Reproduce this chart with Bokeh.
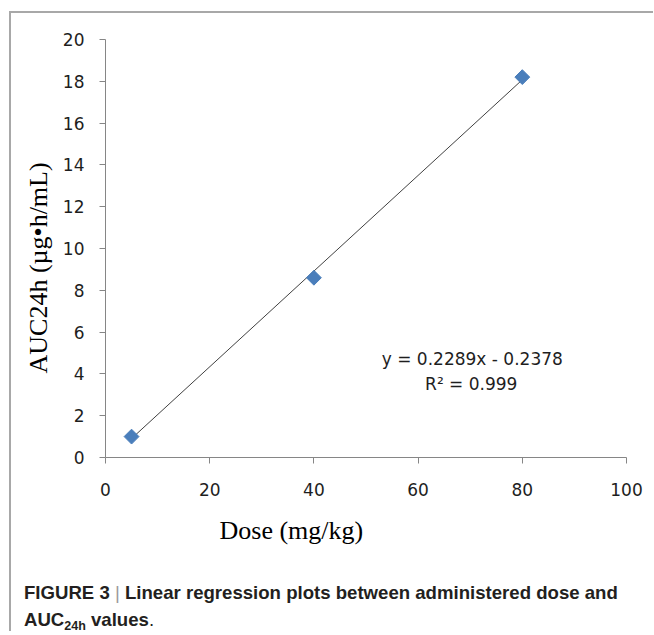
import numpy as np
from bokeh.plotting import figure
from bokeh.models import Label, Div, Range1d, FixedTicker, Title
from bokeh.layouts import column
from bokeh.embed import file_html
from bokeh.resources import INLINE

# ---- data ----
dose = [5, 40, 80]            # mg/kg
auc24h = [1.0, 8.6, 18.2]     # µg·h/mL
slope = 0.2289
intercept = -0.2378
r_squared = 0.999
x_ticks = [0, 20, 40, 60, 80, 100]
y_ticks = [0, 2, 4, 6, 8, 10, 12, 14, 16, 18, 20]

p = figure(width=642, height=550,
           x_range=Range1d(0, 100), y_range=Range1d(0, 20),
           output_backend="svg", toolbar_location=None,
           min_border_left=94, min_border_right=27,
           min_border_top=26, min_border_bottom=106,
           margin=0)
p.grid.visible = False
p.outline_line_color = None
p.background_fill_color = "white"
p.border_fill_color = "white"

for ax, ticks, standoff in ((p.xaxis, x_ticks, 19), (p.yaxis, y_ticks, 15)):
    ax.ticker = FixedTicker(ticks=ticks)
    ax.minor_tick_line_color = None
    ax.major_tick_in = 0
    ax.major_tick_out = 6
    ax.axis_line_color = "#868686"
    ax.major_tick_line_color = "#868686"
    ax.axis_line_width = 1
    ax.major_label_text_font = "DejaVu Sans"
    ax.major_label_text_font_size = "17px"
    ax.major_label_text_color = "#1e1e1e"
    ax.major_label_standoff = standoff

# trend line from the regression equation over the dose span
fit_x = np.array([min(dose), max(dose)], dtype=float)
fit_y = slope * fit_x + intercept
p.line(fit_x, fit_y, line_color="#404040", line_width=1)

# data points (Excel-like diamonds)
p.scatter(dose, auc24h, marker="square", size=10.5, angle=np.pi / 4,
          fill_color="#4a7ebb", line_color="#4a7ebb")

# equation annotations
p.add_layout(Label(x=70.4, y=4.70, text=f"y = {slope}x - {abs(intercept)}",
                   text_align="center", text_baseline="alphabetic",
                   text_font="DejaVu Sans", text_font_size="17px",
                   text_color="#1e1e1e"))
p.add_layout(Label(x=70.2, y=3.50, text=f"R\u00b2 = {r_squared}",
                   text_align="center", text_baseline="alphabetic",
                   text_font="DejaVu Sans", text_font_size="17px",
                   text_color="#1e1e1e"))

# axis titles (as titles so they can sit off-centre like the reference)
p.add_layout(Title(text="Dose (mg/kg)", align="left", offset=114,
                   vertical_align="top", standoff=34,
                   text_font="Liberation Serif", text_font_size="26px",
                   text_font_style="normal", text_color="black"), "below")
p.add_layout(Title(text="AUC24h (\u00b5g\u2022h/mL)", align="left", offset=84,
                   vertical_align="bottom", standoff=14,
                   text_font="Liberation Serif", text_font_size="26px",
                   text_font_style="normal", text_color="black"), "left")

caption = Div(text=(
    '<div style="font-family:\'Liberation Sans\',Arial,sans-serif;font-weight:bold;'
    'font-size:18.6px;color:#231f20;line-height:14px;padding-left:13px;white-space:nowrap;">'
    '<div style="margin-top:23px">FIGURE 3 <span style="font-weight:normal;color:#9a9a9a">|</span> '
    'Linear regression plots between administered dose and</div>'
    '<div style="margin-top:13px">AUC<span style="font-size:12.5px;position:relative;top:4px">24h</span>'
    ' values<span style="font-weight:normal">.</span></div></div>'),
    width=642, margin=0)

layout = column(p, caption, margin=(11, 0, 0, 9),
                styles={"border-top": "2px solid #a8a8a8",
                        "border-left": "2px solid #a8a8a8"})

open("out.html", "w").write(file_html(layout, INLINE))
